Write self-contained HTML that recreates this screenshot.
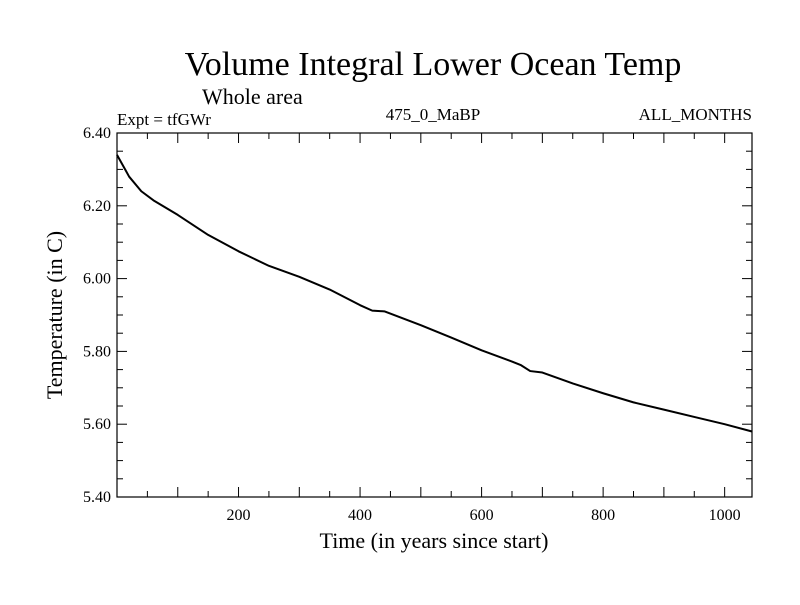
<!DOCTYPE html>
<html><head><meta charset="utf-8"><style>
body{margin:0;background:#fff;font-family:"Liberation Serif",serif}
</style></head><body>
<svg width="800" height="600" xmlns="http://www.w3.org/2000/svg" font-family="Liberation Serif, serif">
<text x="433" y="75" font-size="34" text-anchor="middle">Volume Integral Lower Ocean Temp</text>
<text x="202" y="104" font-size="22">Whole area</text>
<text x="117" y="125" font-size="17">Expt = tfGWr</text>
<text x="433" y="120" font-size="17" text-anchor="middle">475_0_MaBP</text>
<text x="752" y="120" font-size="17" text-anchor="end">ALL_MONTHS</text>
<g id="axes"></g>
<text x="434" y="548" font-size="22" text-anchor="middle">Time (in years since start)</text>
<text transform="translate(62,315) rotate(-90)" font-size="22" text-anchor="middle">Temperature (in C)</text>
</svg>
<script>
const years=[0,20,40,60,100,150,200,250,300,350,400,420,440,500,550,600,650,665,680,700,750,800,850,900,950,1000,1045];
const temps=[6.34,6.28,6.24,6.215,6.175,6.12,6.075,6.035,6.005,5.97,5.927,5.912,5.91,5.872,5.838,5.803,5.772,5.762,5.746,5.742,5.712,5.685,5.66,5.64,5.62,5.60,5.58];
const xTickLabels=[200,400,600,800,1000];
const yTickLabels=["5.40","5.60","5.80","6.00","6.20","6.40"];
const L=117,R=752,T=133,B=497,X0=0,X1=1045,Y0=5.4,Y1=6.4;
const sx=v=>L+(v-X0)/(X1-X0)*(R-L), sy=v=>B-(v-Y0)/(Y1-Y0)*(B-T);
const g=document.getElementById('axes');const NS='http://www.w3.org/2000/svg';
function mk(t,a){const e=document.createElementNS(NS,t);for(const k in a)e.setAttribute(k,a[k]);g.appendChild(e);return e;}
const fr=mk('rect',{x:L,y:T,width:R-L,height:B-T,fill:'none',stroke:'#000','stroke-width':1.2});


for(let v=50;v<X1;v+=50){const len=v%100===0?10:6;const x=sx(v);
 const t1=mk('line',{x1:x,x2:x,y1:B,y2:B-len,stroke:'#000'});
 
 
 const t2=mk('line',{x1:x,x2:x,y1:T,y2:T+len,stroke:'#000'});
 
 }
xTickLabels.forEach(v=>{const t=mk('text',{x:sx(v),y:B+23,'font-size':16,'text-anchor':'middle'});t.textContent=v;
 
 });
for(let i=1;i<20;i++){const v=Y0+i*0.05;const len=i%4===0?10:6;const y=sy(v);
 const t1=mk('line',{x1:L,x2:L+len,y1:y,y2:y,stroke:'#000'});
 
 
 const t2=mk('line',{x1:R,x2:R-len,y1:y,y2:y,stroke:'#000'});
 
 }
yTickLabels.forEach(s=>{const t=mk('text',{x:L-6,y:sy(parseFloat(s))+5,'font-size':16,'text-anchor':'end'});t.textContent=s;
 
 });
const p=mk('polyline',{points:years.map((y,i)=>sx(y)+','+sy(temps[i])).join(' '),fill:'none',stroke:'#000','stroke-width':2,'stroke-linejoin':'round'});


</script>
</body></html>
